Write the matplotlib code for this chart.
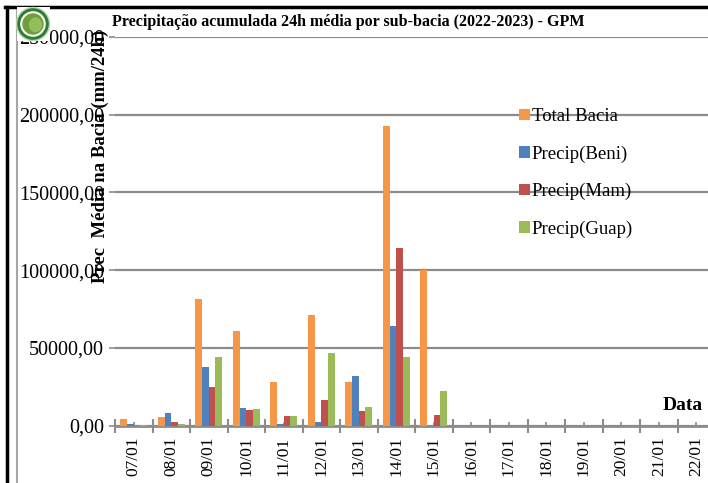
import matplotlib
matplotlib.use("Agg")
import matplotlib.pyplot as plt
import numpy as np
from matplotlib.lines import Line2D
from matplotlib.patches import Ellipse, Rectangle
from matplotlib.ticker import FuncFormatter, MultipleLocator

plt.rcParams["font.family"] = ["Liberation Serif", "DejaVu Serif"]

DATES = ["07/01", "08/01", "09/01", "10/01", "11/01", "12/01", "13/01", "14/01",
         "15/01", "16/01", "17/01", "18/01", "19/01", "20/01", "21/01", "22/01"]
TOTAL_BACIA = [4000, 5300, 81500, 60700, 28200, 70800, 28200, 192700,
               100000, 0, 0, 0, 0, 0, 0, 0]
PRECIP_BENI = [800, 8000, 37800, 11000, 1000, 2500, 31800, 63800,
               0, 0, 0, 0, 0, 0, 0, 0]
PRECIP_MAM = [0, 2000, 24900, 10000, 6300, 16400, 9500, 114300,
              6700, 0, 0, 0, 0, 0, 0, 0]
PRECIP_GUAP = [600, 1000, 44200, 10600, 6100, 46400, 12100, 43800,
               22200, 0, 0, 0, 0, 0, 0, 0]

SERIES = [
    ("Total Bacia", TOTAL_BACIA, "#F79646"),
    ("Precip(Beni)", PRECIP_BENI, "#4F81BD"),
    ("Precip(Mam)", PRECIP_MAM, "#C0504D"),
    ("Precip(Guap)", PRECIP_GUAP, "#9BBB59"),
]

W, H = 708, 483
fig = plt.figure(figsize=(W / 100, H / 100), dpi=100)

# plot area (extends past the right edge, like the cropped original)
ax = fig.add_axes([115 / W, 57.5 / H, 600 / W, 388.5 / H])

x = np.arange(len(DATES))
bw = 0.178
for i, (name, vals, color) in enumerate(SERIES):
    ax.bar(x + (i - 1.5) * bw, vals, width=bw, color=color, label=name,
           linewidth=0, zorder=3)

ax.set_xlim(-0.5, len(DATES) - 0.5)
ax.set_ylim(0, 250000)
ax.yaxis.set_major_locator(MultipleLocator(50000))
ax.yaxis.set_major_formatter(FuncFormatter(lambda v, p: f"{v:.2f}".replace(".", ",")))
ax.grid(axis="y", color="#8C8C8C", linewidth=1.6, zorder=0)
ax.set_axisbelow(True)

ax.set_xticks(x - 0.5, minor=False)
ax.set_xticklabels([])
ax.set_xticks(x, minor=True)
ax.set_xticklabels(DATES, minor=True, rotation=90, fontsize=12.5)
ax.tick_params(axis="x", which="major", direction="inout", length=10,
               color="#8C8C8C", width=1.5)
ax.tick_params(axis="x", which="minor", direction="in", length=3,
               color="#8C8C8C", width=1.2, pad=8)
ax.tick_params(axis="y", direction="out", length=4, color="#8C8C8C",
               width=1.2, labelsize=14.5, pad=4)

for side in ("top", "right", "left"):
    ax.spines[side].set_visible(False)
ax.spines["bottom"].set_color("#8C8C8C")
ax.spines["bottom"].set_linewidth(2)

fig.text(112 / W, 1 - 22 / H, "Precipitação acumulada 24h média por sub-bacia (2022-2023) - GPM",
         fontsize=11.5, fontweight="bold", va="center", ha="left")
fig.text(100 / W, 1 - 156 / H, "Prec  Média na Bacia (mm/24h)", rotation=90,
         fontsize=13.5, fontweight="bold", va="center", ha="center")
fig.text(703 / W, 1 - 405 / H, "Data", fontsize=14, fontweight="bold",
         va="center", ha="right")

leg = ax.legend(loc="upper left", bbox_to_anchor=(519 / W, 1 - 108 / H),
                bbox_transform=fig.transFigure, frameon=False, fontsize=13.5,
                handlelength=0.58, handleheight=0.58, handletextpad=0.1,
                labelspacing=1.08, borderpad=0, borderaxespad=0)

# frame lines
fig.add_artist(Line2D([5 / W, 1], [1 - 7 / H, 1 - 7 / H], color="black", linewidth=2.5))
fig.add_artist(Line2D([7 / W, 7 / W], [0, 1 - 7 / H], color="black", linewidth=2.5))
fig.add_artist(Line2D([17 / W, 17 / W], [0, 1 - 10 / H], color="#A6A6A6", linewidth=1.5))

# logo
cx, cy = 33 / W, 1 - 24 / H
rx, ry = 16.5 / W, 16.5 / H
fig.add_artist(Rectangle((cx - rx, cy - ry), 2 * rx, 2 * ry, facecolor="white",
                         edgecolor="none", zorder=9))
fig.add_artist(Ellipse((cx, cy), 2 * rx, 2 * ry, facecolor="#2E7D32", edgecolor="#BFD8B0",
                       linewidth=1, zorder=10))
fig.add_artist(Ellipse((cx, cy), 1.55 * rx, 1.55 * ry, facecolor="white", zorder=11))
fig.add_artist(Ellipse((cx, cy), 1.3 * rx, 1.3 * ry, facecolor="#6E9E3A", zorder=12))
fig.add_artist(Ellipse((cx + 0.15 * rx, cy - 0.05 * ry), 0.8 * rx, 0.9 * ry,
                       facecolor="#93BF5A", zorder=13))

fig.savefig("out.png", dpi=100)
